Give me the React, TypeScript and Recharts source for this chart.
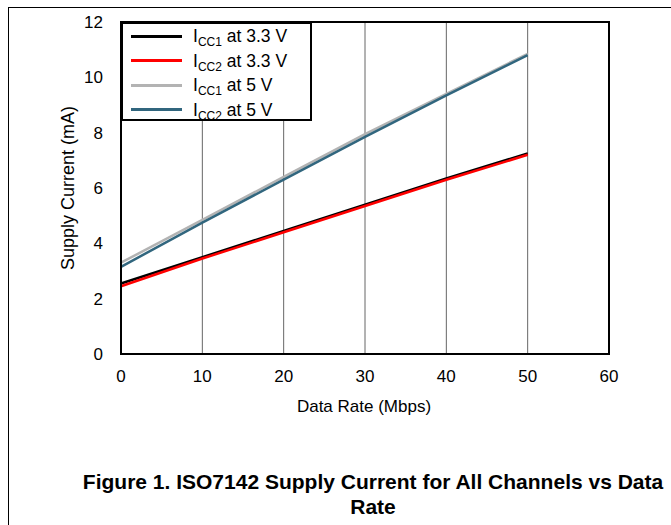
import React from 'react';
import { LineChart, Line, XAxis, YAxis, CartesianGrid, ReferenceArea, Legend } from 'recharts';

const dataRates = [0, 10, 20, 30, 40, 50];
const icc1At33 = [2.55, 3.5, 4.45, 5.4, 6.35, 7.25];
const icc2At33 = [2.45, 3.45, 4.4, 5.35, 6.3, 7.2];
const icc1At5 = [3.3, 4.85, 6.4, 7.95, 9.4, 10.85];
const icc2At5 = [3.15, 4.75, 6.3, 7.85, 9.35, 10.8];

const xTicks = [0, 10, 20, 30, 40, 50, 60];
const yTicks = [0, 2, 4, 6, 8, 10, 12];

const seriesList = [
    { key: 'icc1At33', sub: 'CC1', volts: '3.3 V', color: '#000000' },
    { key: 'icc2At33', sub: 'CC2', volts: '3.3 V', color: '#ff0000' },
    { key: 'icc1At5', sub: 'CC1', volts: '5 V', color: '#b3b3b3' },
    { key: 'icc2At5', sub: 'CC2', volts: '5 V', color: '#31667e' },
];

const data = dataRates.map((rate, i) => ({
    rate,
    icc1At33: icc1At33[i],
    icc2At33: icc2At33[i],
    icc1At5: icc1At5[i],
    icc2At5: icc2At5[i],
}));

const FONT = "Arial, 'Liberation Sans', sans-serif";

const LegendBox: React.FC = () => (
    <div
        style={{
            width: 187,
            height: 95,
            border: '2px solid #000',
            background: '#fff',
            fontFamily: FONT,
            fontSize: 17.5,
            color: '#000',
            paddingTop: 0,
            boxSizing: 'content-box',
        }}
    >
        {seriesList.map((s) => (
            <div key={s.key} style={{ display: 'flex', alignItems: 'center', height: 24.5 }}>
                <div style={{ width: 51, height: 3, background: s.color, marginLeft: 8, marginRight: 11 }} />
                <span style={{ whiteSpace: 'nowrap', lineHeight: '20px' }}>
                    I<sub style={{ fontSize: 12, verticalAlign: '-4px', lineHeight: 0 }}>{s.sub}</sub> at {s.volts}
                </span>
            </div>
        ))}
    </div>
);

const App: React.FC = () => {
    return (
        <div style={{ position: 'absolute', left: 0, top: 0, width: 671, height: 525, overflow: 'hidden', background: '#fff' }}>
            <div
                style={{
                    position: 'absolute',
                    left: 8,
                    top: 7,
                    width: 700,
                    height: 600,
                    borderTop: '1px solid #000',
                    borderLeft: '1px solid #000',
                }}
            />
            <div style={{ position: 'absolute', left: 0, top: 0 }}>
                <LineChart
                    width={671}
                    height={525}
                    data={data}
                    margin={{ top: 22, right: 62, bottom: 111, left: 61 }}
                >
                    <CartesianGrid vertical horizontal={false} stroke="#666" strokeWidth={1} />
                    <XAxis
                        dataKey="rate"
                        type="number"
                        domain={[0, 60]}
                        ticks={xTicks}
                        height={60}
                        tickLine={false}
                        tickSize={0}
                        tickMargin={16}
                        axisLine={{ stroke: '#000', strokeWidth: 2 }}
                        tick={{ fill: '#000', fontSize: 17, fontFamily: FONT }}
                    />
                    <YAxis
                        type="number"
                        domain={[0, 12]}
                        ticks={yTicks}
                        width={60}
                        tickLine={false}
                        tickSize={0}
                        tickMargin={18}
                        axisLine={{ stroke: '#000', strokeWidth: 2 }}
                        tick={{ fill: '#000', fontSize: 17, fontFamily: FONT }}
                    />
                    <ReferenceArea x1={0} x2={60} y1={0} y2={12} fill="none" stroke="#000" strokeWidth={2} fillOpacity={0} />
                    {seriesList.map((s) => (
                        <Line
                            key={s.key}
                            dataKey={s.key}
                            stroke={s.color}
                            strokeWidth={2.5}
                            dot={false}
                            isAnimationActive={false}
                        />
                    ))}
                    <Legend
                        layout="vertical"
                        align="center"
                        verticalAlign="middle"
                        content={<LegendBox />}
                        wrapperStyle={{ position: 'absolute', top: 22, left: 121, width: 191, height: 99 }}
                    />
                </LineChart>
            </div>
            <div
                style={{
                    position: 'absolute',
                    left: 264,
                    top: 397,
                    width: 200,
                    lineHeight: '20px',
                    textAlign: 'center',
                    fontFamily: FONT,
                    fontSize: 17,
                }}
            >
                Data Rate (Mbps)
            </div>
            <div
                style={{
                    position: 'absolute',
                    left: 68 - 100,
                    top: 188 - 10,
                    width: 200,
                    height: 20,
                    lineHeight: '20px',
                    textAlign: 'center',
                    fontFamily: FONT,
                    fontSize: 18,
                    transform: 'rotate(-90deg)',
                }}
            >
                Supply Current (mA)
            </div>
            <div
                style={{
                    position: 'absolute',
                    left: 373 - 320,
                    top: 469,
                    width: 640,
                    textAlign: 'center',
                    fontFamily: FONT,
                    fontSize: 21,
                    fontWeight: 'bold',
                    lineHeight: '25px',
                }}
            >
                <div style={{ whiteSpace: 'nowrap' }}>Figure 1. ISO7142 Supply Current for All Channels vs Data</div>
                <div>Rate</div>
            </div>
        </div>
    );
};

export default App;
